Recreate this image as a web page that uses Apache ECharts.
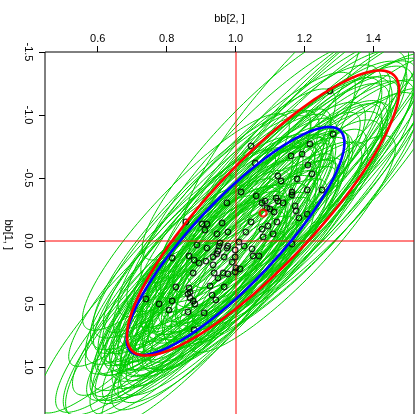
<!DOCTYPE html>
<html>
<head>
<meta charset="utf-8">
<script src="https://cdn.jsdelivr.net/npm/echarts@6/dist/echarts.min.js"></script>
<style>
  html, body { margin: 0; padding: 0; background: #fff; }
  #chart { width: 420px; height: 414px; }
</style>
</head>
<body>
<div id="chart"></div>
<script>
// ---- data ----
const xTicks = [0.6, 0.8, 1.0, 1.2, 1.4];
const yTicks = [-1.5, -1.0, -0.5, 0.0, 0.5, 1.0];
const xName = 'bb[2, ]';
const yName = 'bb[1, ]';

// true parameter (cross-hair) and its confidence ellipse (blue)
const trueCenter = [1.0, 0.0];
const trueHalfWidths = [0.316, 0.905];   // half extent in bb[2,] and bb[1,]
const trueCor = -0.86;

// estimate (red point) and its confidence ellipse (red)
const estCenter = [1.080, -0.222];
const estScale = 1.25;
const estCor = -0.86;

// simulated estimates (black circles)
const ptX = [1.274,1.045,1.283,1.216,1.161,1.193,1.057,1.210,1.222,1.123,
             1.132,1.179,1.208,1.251,1.016,0.975,1.060,1.086,1.077,1.091,
             1.118,1.123,1.138,1.164,1.164,1.173,1.176,1.184,1.208,1.100,
             1.112,1.045,1.094,1.120,1.077,1.109,1.080,1.030,1.164,0.856,
             0.903,0.917,0.911,0.961,0.946,0.978,1.010,0.999,1.025,1.048,
             0.888,0.917,0.955,0.952,0.975,0.978,0.949,0.946,0.935,0.816,
             0.865,0.880,0.894,0.914,0.935,0.967,0.999,1.051,1.068,0.990,
             0.877,0.938,0.964,0.978,1.001,1.013,0.999,0.949,0.926,0.967,
             0.932,0.943,0.827,0.865,0.868,0.862,0.868,0.877,0.882,0.816,
             0.807,0.778,0.740,0.862,0.909,0.880];
const ptY = [-1.190,-0.754,-0.849,-0.770,-0.675,-0.690,-0.619,-0.603,-0.532,-0.516,
             -0.476,-0.492,-0.405,-0.405,-0.389,-0.302,-0.357,-0.317,-0.302,-0.262,
             -0.341,-0.317,-0.302,-0.389,-0.365,-0.278,-0.238,-0.183,-0.214,-0.254,
             -0.230,-0.151,-0.119,-0.151,-0.095,-0.056,-0.032,-0.071,0.024,-0.151,
             -0.135,-0.135,-0.087,-0.143,-0.056,-0.071,0.008,0.071,0.040,0.063,
             0.032,0.056,0.016,0.040,0.056,0.040,0.079,0.103,0.127,0.135,
             0.119,0.151,0.175,0.159,0.190,0.127,0.127,0.119,0.119,0.167,
             0.254,0.254,0.254,0.262,0.214,0.222,0.246,0.294,0.357,0.365,
             0.429,0.468,0.365,0.373,0.405,0.421,0.452,0.476,0.500,0.476,
             0.548,0.500,0.460,0.563,0.571,0.706];

// per-simulation confidence ellipses (green): size relative to the blue one, and correlation
const ellScale = [1.35,1.00,1.35,1.30,1.25,1.30,1.05,1.25,1.25,1.20,
                  1.15,1.25,1.20,1.20,1.05,1.00,1.15,1.15,1.10,1.15,
                  1.20,1.10,1.20,1.15,1.20,1.10,1.15,1.10,1.10,1.10,
                  1.15,1.05,1.10,1.05,1.10,1.00,1.10,1.05,0.95,0.95,
                  1.00,0.95,1.05,1.00,1.05,1.00,1.00,1.05,1.00,1.05,
                  0.95,1.00,0.95,1.05,1.00,0.95,1.00,0.95,1.00,0.95,
                  0.95,1.00,0.90,1.00,0.95,1.00,1.05,1.00,1.00,0.95,
                  0.90,0.95,0.90,1.00,0.95,0.90,1.00,0.90,0.90,0.95,
                  0.90,0.90,0.95,0.90,0.95,0.90,0.90,0.90,0.85,1.00,
                  0.95,0.95,1.00,0.90,0.85,0.85];
const ellCor = [-0.88,-0.90,-0.87,-0.89,-0.88,-0.90,-0.89,-0.87,-0.89,-0.88,
                -0.87,-0.90,-0.88,-0.89,-0.88,-0.89,-0.87,-0.90,-0.88,-0.86,
                -0.88,-0.89,-0.87,-0.88,-0.91,-0.87,-0.89,-0.88,-0.90,-0.87,
                -0.90,-0.88,-0.87,-0.89,-0.90,-0.87,-0.88,-0.91,-0.89,-0.89,
                -0.88,-0.90,-0.87,-0.89,-0.88,-0.90,-0.88,-0.89,-0.87,-0.90,
                -0.88,-0.87,-0.90,-0.89,-0.87,-0.88,-0.90,-0.86,-0.89,-0.91,
                -0.87,-0.88,-0.90,-0.89,-0.86,-0.90,-0.88,-0.87,-0.89,-0.90,
                -0.88,-0.86,-0.89,-0.90,-0.87,-0.88,-0.90,-0.86,-0.89,-0.88,
                -0.90,-0.87,-0.89,-0.86,-0.90,-0.88,-0.89,-0.87,-0.90,-0.88,
                -0.86,-0.89,-0.90,-0.87,-0.88,-0.90];

// ---- build ----
const greenData = ptX.map((x, i) => [x, ptY[i], ellScale[i], ellCor[i]]);
const pointData = ptX.map((x, i) => [x, ptY[i]]);

function ellipseRenderer(color, width) {
  return function (params, api) {
    const cx = api.value(0), cy = api.value(1), s = api.value(2), r = api.value(3);
    const d = Math.acos(r);
    const n = 180;
    const pts = [];
    for (let k = 0; k <= n; k++) {
      const t = 2 * Math.PI * k / n;
      pts.push(api.coord([cx + s * trueHalfWidths[0] * Math.cos(t),
                          cy + s * trueHalfWidths[1] * Math.cos(t + d)]));
    }
    return { type: 'polyline', shape: { points: pts },
             style: { stroke: color, lineWidth: width, fill: null } };
  };
}

function crossRenderer(params, api) {
  const cs = params.coordSys;
  const p = api.coord([api.value(0), api.value(1)]);
  const px = Math.round(p[0]);
  const py = Math.round(p[1]);
  return {
    type: 'group',
    children: [
      { type: 'line', shape: { x1: px, y1: cs.y, x2: px, y2: cs.y + cs.height },
        style: { stroke: '#FF0000', lineWidth: 1, fill: null } },
      { type: 'line', shape: { x1: cs.x, y1: py, x2: cs.x + cs.width, y2: py },
        style: { stroke: '#FF0000', lineWidth: 1, fill: null } }
    ]
  };
}

const font = 'Liberation Sans, Arial, Helvetica, sans-serif';
const chart = echarts.init(document.getElementById('chart'), null, { renderer: 'canvas' });
chart.setOption({
  animation: false,
  backgroundColor: '#ffffff',
  grid: { left: 45, right: 6, top: 52, bottom: -3.4, containLabel: false, outerBoundsMode: 'none',
          show: true, borderColor: '#000', borderWidth: 1, backgroundColor: 'transparent' },
  xAxis: {
    type: 'value', position: 'top', min: 0.447, max: 1.518,
    axisLine: { show: false, onZero: false },
    axisTick: { show: true, length: 6, customValues: xTicks, lineStyle: { color: '#000', width: 1 } },
    axisLabel: { customValues: xTicks, formatter: v => v.toFixed(1), color: '#000', fontSize: 11, fontFamily: font, margin: 8 },
    splitLine: { show: false },
    name: xName, nameLocation: 'middle', nameGap: 28,
    nameTextStyle: { color: '#000', fontSize: 11, fontFamily: font }
  },
  yAxis: {
    type: 'value', position: 'left', inverse: true, min: -1.5, max: 1.4,
    axisLine: { show: false, onZero: false },
    axisTick: { show: true, length: 6, customValues: yTicks, lineStyle: { color: '#000', width: 1 } },
    axisLabel: { customValues: yTicks, formatter: v => v.toFixed(1), rotate: -90, color: '#000', fontSize: 11, fontFamily: font, margin: 11 },
    splitLine: { show: false },
    name: yName, nameLocation: 'middle', nameGap: 31, nameRotate: -90,
    nameTextStyle: { color: '#000', fontSize: 11, fontFamily: font }
  },
  series: [
    {
      type: 'custom', name: 'sim ellipses', z: 2, clip: true, silent: true,
      encode: { x: 0, y: 1 },
      renderItem: ellipseRenderer('#00CD00', 1),
      data: greenData
    },
    {
      type: 'custom', name: 'cross', z: 3, clip: true, silent: true,
      encode: { x: 0, y: 1 },
      renderItem: crossRenderer,
      data: [trueCenter]
    },
    {
      type: 'scatter', name: 'estimates', z: 4, silent: true,
      symbol: 'circle', symbolSize: 5.5,
      itemStyle: { color: 'rgba(0,0,0,0)', borderColor: '#000', borderWidth: 1.3 },
      data: pointData
    },
    {
      type: 'custom', name: 'true ellipse', z: 5, clip: true, silent: true,
      encode: { x: 0, y: 1 },
      renderItem: ellipseRenderer('#0000FF', 2.6),
      data: [[trueCenter[0], trueCenter[1], 1, trueCor]]
    },
    {
      type: 'custom', name: 'est ellipse', z: 5, clip: true, silent: true,
      encode: { x: 0, y: 1 },
      renderItem: ellipseRenderer('#FF0000', 2.6),
      data: [[estCenter[0], estCenter[1], estScale, estCor]]
    },
    {
      type: 'scatter', name: 'estimate', z: 6, silent: true,
      symbol: 'circle', symbolSize: 7,
      itemStyle: { color: 'rgba(0,0,0,0)', borderColor: '#FF0000', borderWidth: 2.2 },
      data: [estCenter]
    }
  ]
});
</script>
</body>
</html>
